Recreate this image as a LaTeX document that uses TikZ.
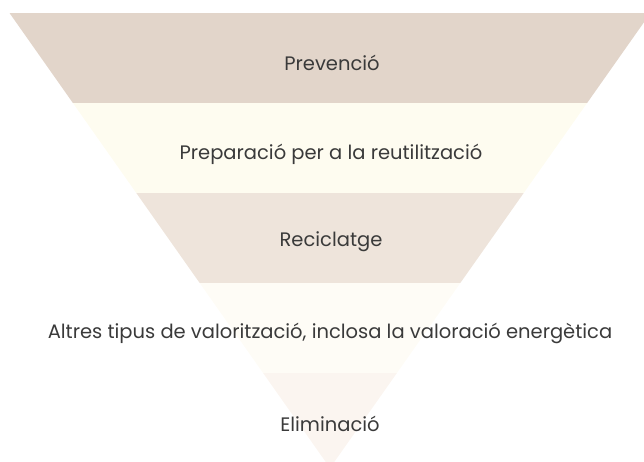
\documentclass[tikz,border=0pt]{standalone}
\usepackage{fontspec}
\setmainfont{Poppins}
\definecolor{bandA}{HTML}{E2D5CA}
\definecolor{bandB}{HTML}{FEFCF0}
\definecolor{bandC}{HTML}{EEE4DB}
\definecolor{bandD}{HTML}{FEFCF6}
\definecolor{bandE}{HTML}{FBF5F0}
\definecolor{txt}{HTML}{3A3A3A}
\begin{document}
\begin{tikzpicture}[x=1pt,y=-1pt,
  lbl/.style={text=txt,font=\fontsize{19.5}{23}\selectfont,inner sep=0pt,anchor=center}]
\useasboundingbox (0,0) rectangle (644,462);
\begin{scope}
  \clip (0,0) rectangle (644,462);
  \clip (9.5,13) -- (650.5,13) -- (330,468) -- cycle;
  \fill[bandA] (0,13) rectangle (660,103);
  \fill[bandB] (0,103) rectangle (660,193);
  \fill[bandC] (0,193) rectangle (660,283);
  \fill[bandD] (0,283) rectangle (660,373);
  \fill[bandE] (0,373) rectangle (660,470);
\end{scope}
\node[lbl] (n1) at (332,63) {Prevenció};
\node[lbl] (n2) at (331,154) {Preparació per a la reutilització};
\node[lbl] (n3) at (331,242) {Reciclatge};
\node[lbl] (n4) at (330,333) {Altres tipus de valorització, inclosa la valoració energètica};
\node[lbl] (n5) at (330,424) {Eliminació};
\end{tikzpicture}
\end{document}
